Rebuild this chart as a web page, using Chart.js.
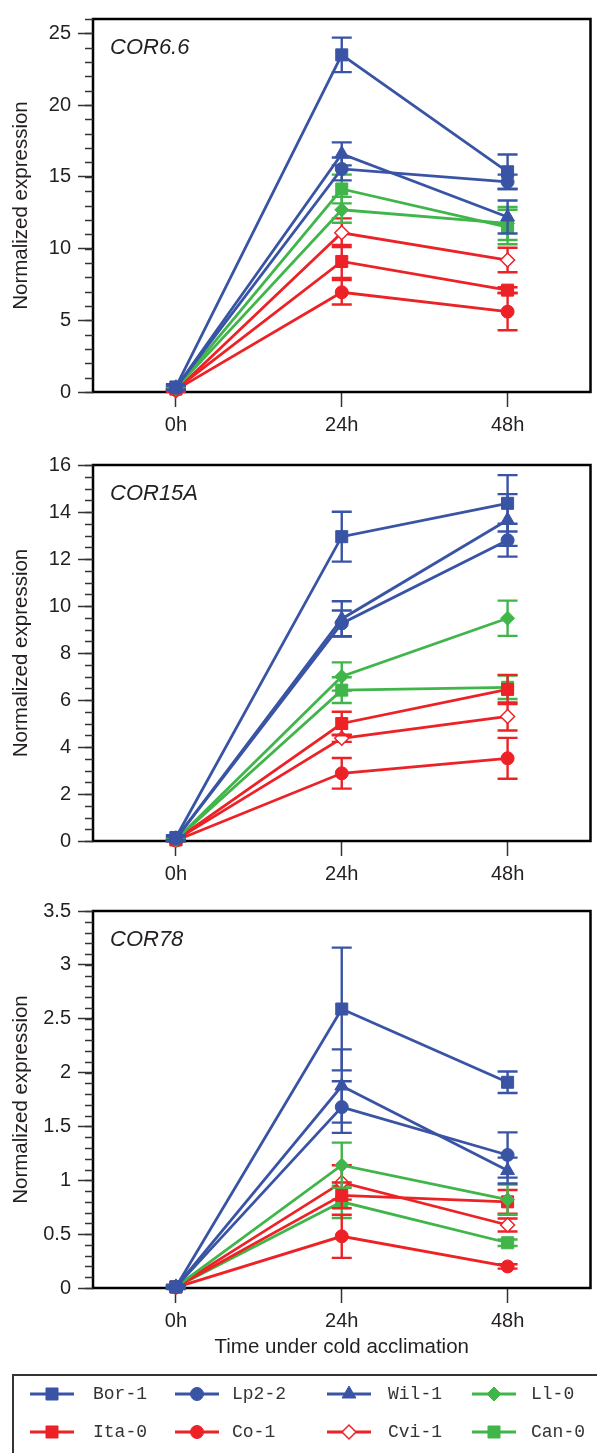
<!DOCTYPE html>
<html>
<head>
<meta charset="utf-8">
<script src="https://cdn.jsdelivr.net/npm/chart.js@4.4.1/dist/chart.umd.min.js"></script>
<style>
  html, body { margin: 0; padding: 0; background: #fff; }
  body { width: 597px; height: 1453px; overflow: hidden; position: relative; }
  .panel { position: absolute; left: 0; }
</style>
</head>
<body>
<div class="panel" style="top:0px"><canvas id="c1" width="600" height="450"></canvas></div>
<div class="panel" style="top:440px"><canvas id="c2" width="600" height="450"></canvas></div>
<div class="panel" style="top:885px"><canvas id="c3" width="600" height="568"></canvas></div>
<script>
// time points and accessions
const timePoints = ['0h', '24h', '48h'];
const accessions = ['Bor-1', 'Lp2-2', 'Wil-1', 'Ll-0', 'Ita-0', 'Co-1', 'Cvi-1', 'Can-0'];

// COR6.6 means / errors, one row per accession (0h, 24h, 48h)
const cor66 = [
    [0.35, 23.5, 15.35],
    [0.3, 15.55, 14.65],
    [0.3, 16.6, 12.2],
    [0.25, 12.7, 11.75],
    [0.2, 9.1, 7.1],
    [0.15, 6.95, 5.6],
    [0.1, 11.1, 9.2],
    [0.25, 14.15, 11.5]
];
const cor66Err = [
    [0.2, 1.2, 1.2],
    [0.15, 0.8, 0.5],
    [0.15, 0.8, 1.15],
    [0.1, 0.9, 1.15],
    [0.1, 1.15, 0.2],
    [0.1, 0.85, 1.3],
    [0.1, 1.0, 0.85],
    [0.1, 1.0, 1.2]
];

// COR15A
const cor15a = [
    [0.15, 12.95, 14.37],
    [0.1, 9.26, 12.8],
    [0.1, 9.45, 13.66],
    [0.05, 7.0, 9.48],
    [0.05, 5.0, 6.45],
    [0.02, 2.88, 3.52],
    [0.05, 4.37, 5.3],
    [0.05, 6.42, 6.54]
];
const cor15aErr = [
    [0.1, 1.06, 1.2],
    [0.1, 0.55, 0.7],
    [0.1, 0.75, 1.1],
    [0.05, 0.6, 0.75],
    [0.05, 0.5, 0.62],
    [0.02, 0.65, 0.87],
    [0.05, 0.15, 0.6],
    [0.05, 0.55, 0.5]
];

// COR78
const cor78 = [
    [0.01, 2.59, 1.91],
    [0.01, 1.68, 1.235],
    [0.01, 1.875, 1.09],
    [0.01, 1.14, 0.82],
    [0.01, 0.86, 0.8],
    [0.005, 0.48, 0.2],
    [0.01, 0.98, 0.585],
    [0.01, 0.8, 0.42]
];
const cor78Err = [
    [0.02, 0.57, 0.1],
    [0.01, 0.24, 0.21],
    [0.01, 0.34, 0.12],
    [0.01, 0.21, 0.14],
    [0.01, 0.12, 0.11],
    [0.01, 0.2, 0.02],
    [0.01, 0.16, 0.06],
    [0.01, 0.15, 0.03]
];

// y axis ticks
const cor66Ticks = [0, 5, 10, 15, 20, 25];
const cor15aTicks = [0, 2, 4, 6, 8, 10, 12, 14, 16];
const cor78Ticks = [0, 0.5, 1, 1.5, 2, 2.5, 3, 3.5];

// series styles
const BLUE = '#3a54a5', RED = '#ec2227', GREEN = '#40b54a';
const seriesColor = [BLUE, BLUE, BLUE, GREEN, RED, RED, RED, GREEN];
const seriesPoint = ['rect', 'circle', 'triangle', 'rectRot', 'rect', 'circle', 'rectRot', 'rect'];
const seriesRadius = [8.5, 6.5, 8, 7, 8.5, 6.5, 7, 8.5];
const seriesHollow = [false, false, false, false, false, false, true, false];

const FONT = 'Liberation Sans, Arial, sans-serif';
const TXT = '#231f20';

// error bars, drawn under each dataset's line
const errorBars = {
    id: 'errorBars',
    beforeDatasetDraw(chart, args) {
        const ds = chart.data.datasets[args.index];
        if (!ds.errors) return;
        const ctx = chart.ctx;
        const y = chart.scales.y;
        ctx.save();
        ctx.strokeStyle = ds.borderColor;
        ctx.lineWidth = 2.4;
        args.meta.data.forEach((pt, i) => {
            const v = ds.data[i], e = ds.errors[i];
            const y1 = y.getPixelForValue(v + e), y2 = y.getPixelForValue(v - e);
            ctx.beginPath();
            ctx.moveTo(pt.x, y1); ctx.lineTo(pt.x, y2);
            ctx.moveTo(pt.x - 10, y1); ctx.lineTo(pt.x + 10, y1);
            ctx.moveTo(pt.x - 10, y2); ctx.lineTo(pt.x + 10, y2);
            ctx.stroke();
        });
        ctx.restore();
    }
};

// frame, minor ticks and gene name
const frame = {
    id: 'frame',
    beforeDatasetsDraw(chart, args, opts) {
        const {ctx, chartArea: a} = chart;
        const y = chart.scales.y;
        ctx.save();
        ctx.strokeStyle = '#000';
        ctx.lineWidth = 2.5;
        ctx.strokeRect(a.left, a.top, a.right - a.left, a.bottom - a.top);

        ctx.strokeStyle = '#333';
        ctx.lineWidth = 1.5;
        const n = Math.round((y.max - y.min) / opts.minorStep);
        for (let i = 0; i <= n; i++) {
            const v = y.min + i * opts.minorStep;
            const py = Math.round(y.getPixelForValue(v)) + 0.5;
            ctx.beginPath();
            ctx.moveTo(a.left - 8, py);
            ctx.lineTo(a.left, py);
            ctx.stroke();
        }

        ctx.fillStyle = TXT;
        ctx.font = 'italic 22px ' + FONT;
        ctx.textBaseline = 'alphabetic';
        ctx.fillText(opts.gene, a.left + 17, a.top + 35);
        ctx.restore();
    }
};

function makeChart(id, gene, means, errs, ticks, yMax, minorStep, pad, xHeight, xTitle, extra) {
    const datasets = accessions.map((name, i) => ({
        label: name,
        data: means[i],
        errors: errs[i],
        borderColor: seriesColor[i],
        backgroundColor: seriesColor[i],
        borderWidth: 2.8,
        pointStyle: seriesPoint[i],
        pointRadius: seriesRadius[i],
        pointBackgroundColor: seriesHollow[i] ? '#fff' : seriesColor[i],
        pointBorderColor: seriesColor[i],
        pointBorderWidth: seriesHollow[i] ? 1.5 : 1,
        tension: 0,
        clip: false
    }));
    const tickFont = {family: FONT, size: 20};
    return new Chart(document.getElementById(id), {
        type: 'line',
        data: {labels: timePoints, datasets: datasets},
        options: {
            responsive: false,
            animation: false,
            events: [],
            layout: {padding: {top: pad, left: 0, right: 2, bottom: 0}},
            scales: {
                x: {
                    type: 'category',
                    offset: true,
                    grid: {drawOnChartArea: false, tickLength: 15, tickWidth: 1.5, tickColor: '#333'},
                    border: {display: false},
                    ticks: {font: tickFont, color: TXT, padding: 6},
                    title: xTitle ? {display: true, text: xTitle, font: {family: FONT, size: 20.5}, color: TXT,
                        padding: {top: 0, bottom: 93}} : {display: false},
                    afterFit(s) { s.height = xHeight; }
                },
                y: {
                    min: 0,
                    max: yMax,
                    afterBuildTicks(s) { s.ticks = ticks.map(v => ({value: v})); },
                    grid: {drawOnChartArea: false, tickLength: 15, tickWidth: 1.5, tickColor: '#333'},
                    border: {display: false},
                    ticks: {font: tickFont, color: TXT, padding: 7, callback: v => String(v)},
                    title: {display: true, text: 'Normalized expression', font: {family: FONT, size: 20.5},
                        color: TXT, padding: {top: 9, bottom: 0}},
                    afterFit(s) { s.width = 93; }
                }
            },
            plugins: {
                legend: {display: false},
                tooltip: {enabled: false},
                frame: {gene: gene, minorStep: minorStep}
            }
        },
        plugins: [errorBars, frame].concat(extra || [])
    });
}

// legend box under the last panel
const legendBox = {
    id: 'legendBox',
    afterDraw(chart) {
        const ctx = chart.ctx;
        ctx.save();
        ctx.strokeStyle = '#333';
        ctx.lineWidth = 2;
        ctx.strokeRect(13, 490, 700, 200);
        const colLine = [30, 175, 327, 472];
        const colText = [93, 232, 388, 531];
        const rowY = [509, 547];
        ctx.font = '18px Liberation Mono, Courier New, monospace';
        ctx.textBaseline = 'middle';
        accessions.forEach((name, i) => {
            const r = i < 4 ? 0 : 1, c = i % 4;
            const y = rowY[r];
            ctx.strokeStyle = seriesColor[i];
            ctx.lineWidth = 3;
            ctx.beginPath();
            ctx.moveTo(colLine[c], y);
            ctx.lineTo(colLine[c] + 44, y);
            ctx.stroke();
            ctx.fillStyle = seriesHollow[i] ? '#fff' : seriesColor[i];
            ctx.lineWidth = seriesHollow[i] ? 1.5 : 1;
            Chart.helpers.drawPoint(ctx, {pointStyle: seriesPoint[i], radius: seriesRadius[i], rotation: 0,
                borderWidth: ctx.lineWidth}, colLine[c] + 22, y);
            ctx.fillStyle = '#333';
            ctx.fillText(name, colText[c], y);
        });
        ctx.restore();
    }
};

makeChart('c1', 'COR6.6', cor66, cor66Err, cor66Ticks, 26, 1, 15, 58, null);
makeChart('c2', 'COR15A', cor15a, cor15aErr, cor15aTicks, 16, 0.5, 25, 49, null);
makeChart('c3', 'COR78', cor78, cor78Err, cor78Ticks, 3.5, 0.1, 26, 165, 'Time under cold acclimation', [legendBox]);
</script>
</body>
</html>
